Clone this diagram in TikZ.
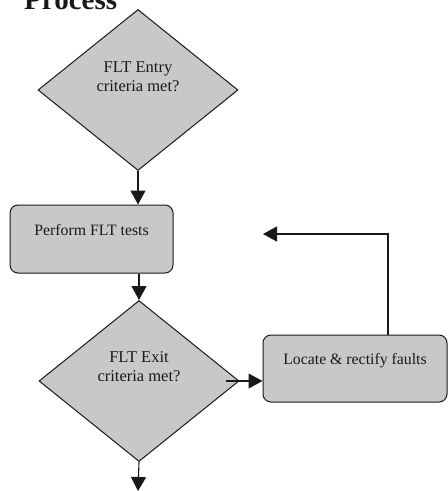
\documentclass[tikz,border=0pt]{standalone}
\usepackage{fontspec}
\setmainfont{Liberation Serif}
\usetikzlibrary{shapes.geometric,arrows.meta,positioning}
\definecolor{flowgray}{RGB}{200,200,200}
\definecolor{flowink}{RGB}{25,25,25}

\begin{document}
\begin{tikzpicture}[x=1pt,y=-1pt,
    decision/.style={diamond, draw=flowink, fill=flowgray, line width=1pt,
        minimum width=200pt, minimum height=161pt, inner sep=0pt},
    stepbox/.style={rectangle, rounded corners=8pt, draw=flowink, fill=flowgray,
        line width=1pt, inner sep=0pt},
    flowtext/.style={flowink, font=\fontsize{16.5}{19}\selectfont, align=center},
    boxtext/.style={flowink, font=\fontsize{15.8}{18}\selectfont},
    flow/.style={flowink, line width=1.1pt, -{Triangle[width=15pt,length=14pt]}}]
    \useasboundingbox (0,0) rectangle (448,491);

    % title, cut off at the top
    \node[flowink, font=\bfseries\fontsize{29}{32}\selectfont, anchor=base west, inner sep=0pt] (title) at (24,9) {Process};

    % entry check
    \node[decision] (entry) at (138,90) {};
    \node[flowtext] (entrytxt) at ([yshift=13]entry.center) {FLT Entry\\criteria met?};

    % test step
    \node[stepbox, minimum width=163pt, minimum height=68pt] (perform) at (91.5,239) {};
    \node[boxtext] (performtxt) at ([yshift=9]perform.center) {Perform FLT tests};

    % exit check
    \node[decision] (exit) at (139,381) {};
    \node[flowtext] (exittxt) at ([yshift=14]exit.center) {FLT Exit\\criteria met?};

    % fault loop
    \node[stepbox, minimum width=184pt, minimum height=67pt] (locate) at (355,368.5) {};
    \node[boxtext] (locatetxt) at ([yshift=8]locate.center) {Locate \& rectify faults};
    \coordinate (loopturn) at (388,234);
    \coordinate (loopend) at (263,234);
    \coordinate (exitout) at (138,491);

    % connectors
    \draw[flow] (entry.south) -- (entry.south |- perform.north);
    \draw[flow] (perform.south -| exit.north) -- (exit.north);
    \draw[flow] ([xshift=-14pt]exit.east) -- (locate.west |- exit.east);
    \draw[flow] (locate.north -| loopturn) -- (loopturn) -- (loopend);
    \draw[flow] (exit.south) -- (exitout);
\end{tikzpicture}
\end{document}
